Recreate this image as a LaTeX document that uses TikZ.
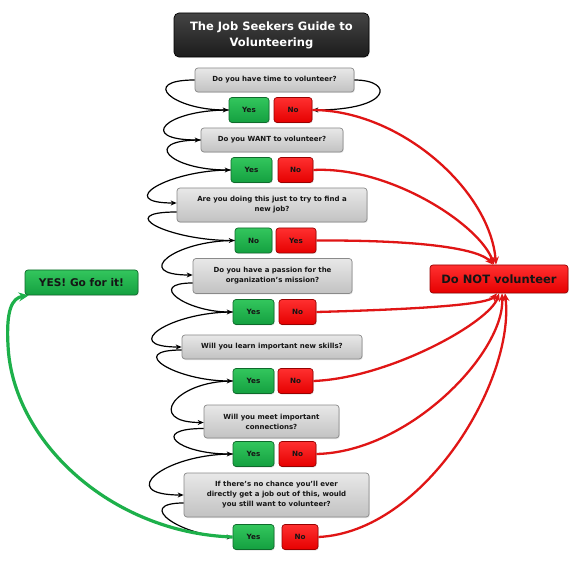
\documentclass[tikz,border=0pt]{standalone}
\usepackage{fontspec}
\setmainfont{DejaVu Sans}
\usetikzlibrary{arrows.meta,shadows,calc}
\definecolor{qtop}{HTML}{E8E8E8}
\definecolor{qbot}{HTML}{C2C2C2}
\definecolor{qbrd}{HTML}{8A8A8A}
\definecolor{gtop}{HTML}{33C65D}
\definecolor{gbot}{HTML}{14A040}
\definecolor{gbrd}{HTML}{0E6A2B}
\definecolor{rtop}{HTML}{FF3030}
\definecolor{rbot}{HTML}{E60000}
\definecolor{rbrd}{HTML}{980000}
\definecolor{rline}{HTML}{E01515}
\definecolor{gline}{HTML}{1DB04A}
\definecolor{ttop}{HTML}{444444}
\definecolor{tbot}{HTML}{1C1C1C}
\definecolor{txt}{HTML}{151515}
\tikzset{
  base/.style={rounded corners=3pt, line width=0.7pt, align=center, inner sep=1pt,
    drop shadow={opacity=0.22, shadow xshift=0.8pt, shadow yshift=-1pt}},
  qbox/.style={base, draw=qbrd, top color=qtop, bottom color=qbot, text=txt,
    font=\bfseries\fontsize{7}{10}\selectfont, minimum height=24pt},
  ybox/.style={base, draw=gbrd, top color=gtop, bottom color=gbot, text=txt,
    font=\bfseries\fontsize{7.2}{8}\selectfont, minimum height=25pt},
  nbox/.style={base, draw=rbrd, top color=rtop, bottom color=rbot, text=txt,
    font=\bfseries\fontsize{7.2}{8}\selectfont, minimum height=25pt},
  tbox/.style={base, rounded corners=5pt, draw=black, top color=ttop, bottom color=tbot,
    text=white, font=\bfseries\fontsize{11.5}{16}\selectfont},
  blk/.style={draw=black, line width=1.2pt, -{Stealth[length=6pt,width=5pt]}},
  lp/.style={out=180, in=180, distance=#1},
  rl/.style={draw=rline, line width=2.3pt, -{Stealth[length=8pt,width=7pt]}},
  gl/.style={draw=gline, line width=3.2pt, -{Stealth[length=10pt,width=9pt]}},
}
\begin{document}
\begin{tikzpicture}[x=1pt,y=-1pt]
\path[use as bounding box, fill=white] (0,0) rectangle (573,569);

\node[tbox, minimum width=195pt, minimum height=44pt] (title) at (271.5,35) {The Job Seekers Guide to\\Volunteering};

\node[qbox, minimum width=159pt] (q1) at (274.5,80) {Do you have time to volunteer?};
\node[ybox, minimum width=40pt] (y1) at (249,110) {Yes};
\node[nbox, minimum width=38pt] (n1) at (293,110) {No};

\node[qbox, minimum width=142pt] (q2) at (272,140) {Do you WANT to volunteer?};
\node[ybox, minimum width=41pt] (y2) at (251.5,170) {Yes};
\node[nbox, minimum width=35pt] (n2) at (295.5,170) {No};

\node[qbox, minimum width=190pt, minimum height=34pt] (q3) at (272,205) {Are you doing this just to try to find a\\new job?};
\node[ybox, minimum width=37pt] (y3) at (253.5,240.5) {No};
\node[nbox, minimum width=40pt] (n3) at (296,240.5) {Yes};

\node[qbox, minimum width=159pt, minimum height=35pt] (q4) at (272.5,276) {Do you have a passion for the\\organization's mission?};
\node[ybox, minimum width=41pt] (y4) at (253.5,312) {Yes};
\node[nbox, minimum width=37pt] (n4) at (297.5,312) {No};

\node[qbox, minimum width=180pt] (q5) at (272,347) {Will you learn important new skills?};
\node[ybox, minimum width=41pt] (y5) at (253.5,381) {Yes};
\node[nbox, minimum width=35pt] (n5) at (295.5,381) {No};

\node[qbox, minimum width=135pt, minimum height=33pt] (q6) at (271.5,421.5) {Will you meet important\\connections?};
\node[ybox, minimum width=41pt] (y6) at (253.5,454) {Yes};
\node[nbox, minimum width=37pt] (n6) at (297.5,454) {No};

\node[qbox, minimum width=185pt, minimum height=44pt] (q7) at (276.5,495) {If there's no chance you'll ever\\directly get a job out of this, would\\you still want to volunteer?};
\node[ybox, minimum width=41pt] (y7) at (253.5,537) {Yes};
\node[nbox, minimum width=36pt] (n7) at (300,537) {No};

\node[base, draw=gbrd, top color=gtop, bottom color=gbot, text=txt,
  font=\bfseries\fontsize{10.6}{12}\selectfont, minimum width=113pt, minimum height=25pt] (go) at (81.5,282.5) {YES! Go for it!};
\node[base, draw=rbrd, top color=rtop, bottom color=rbot, text=txt,
  font=\bfseries\fontsize{11.5}{13}\selectfont, minimum width=138pt, minimum height=28pt] (not) at (499,279) {Do NOT volunteer};

% black flow connectors
\draw[blk] (q1.west) to[lp=56] (y1.west);
\draw[blk] (q1.east) to[out=0,in=0,out distance=40,in distance=80] (n1.east);
\draw[blk] (y1.west) to[lp=64] (q2.west);
\draw[blk] (q2.west) to[lp=61] (y2.west);
\draw[blk] (y2.west) to[lp=63] ([yshift=2pt]q3.west);
\draw[blk] ([yshift=-7pt]q3.west) to[lp=65] (y3.west);
\draw[blk] (y3.west) to[lp=61] ([yshift=1pt]q4.west);
\draw[blk] ([yshift=-7pt]q4.west) to[lp=47] (y4.west);
\draw[blk] (y4.west) to[lp=63] (q5.west);
\draw[blk] ([yshift=-3pt]q5.west) to[lp=57] (y5.west);
\draw[blk] (y5.west) to[lp=58] ([yshift=-1pt]q6.west);
\draw[blk] ([yshift=-7pt]q6.west) to[lp=55] (y6.west);
\draw[blk] (y6.west) to[lp=69] (q7.west);
\draw[blk] ([yshift=-8pt]q7.west) to[lp=51] (y7.west);

% red connectors
\draw[rl] (n1.east) .. controls (400,110) and (490,190) .. ([xshift=-3pt]not.north);
\draw[rl] (n2.east) .. controls (390,166) and (480,225) .. ([xshift=-5pt]not.north);
\draw[rl] (n3.east) .. controls (430,240) and (480,250) .. ([xshift=-6pt]not.north);
\draw[rl] (n4.east) .. controls (430,309) and (488,304) .. ([xshift=-2pt]not.south);
\draw[rl] (n5.east) .. controls (390,378) and (490,322) .. ([xshift=0pt]not.south);
\draw[rl] (n6.east) .. controls (410,452) and (505,352) .. ([xshift=3pt]not.south);
\draw[rl] (n7.east) .. controls (425,532) and (515,380) .. ([xshift=6pt]not.south);

% green connector
\draw[gl] (y7.west) .. controls (110,533) and (12,440) .. (8,345) .. controls (6,310) and (12,298) .. ([xshift=4pt]go.south west);
\end{tikzpicture}
\end{document}
